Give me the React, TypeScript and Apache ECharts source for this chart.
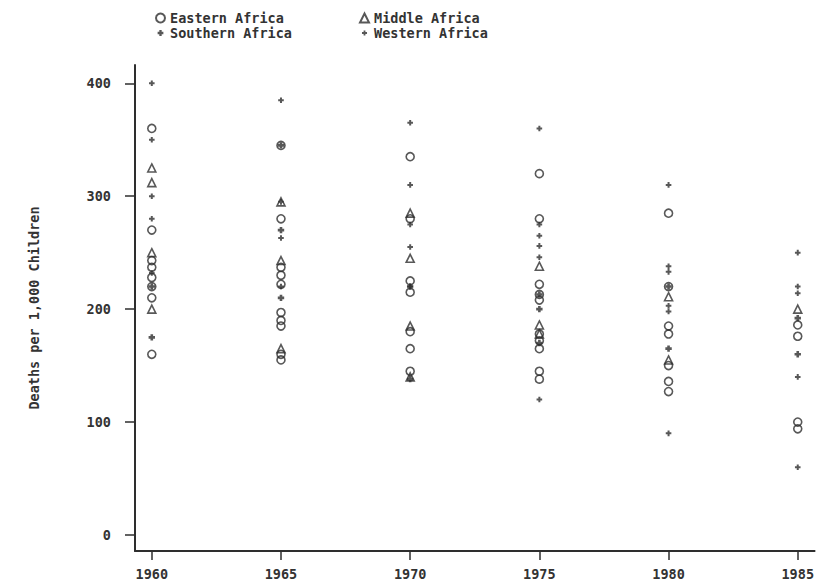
import React, { useEffect, useRef } from "react";
import * as echarts from "echarts";

const years = [1960, 1965, 1970, 1975, 1980, 1985];
const yTicks = [0, 100, 200, 300, 400];

// values per year (same order as `years`)
const easternAfrica = [
  [360, 270, 243, 237, 228, 220, 210, 160],
  [345, 280, 237, 230, 222, 197, 190, 185, 160, 155],
  [335, 280, 225, 215, 180, 165, 145],
  [320, 280, 222, 213, 208, 178, 172, 165, 145, 138],
  [285, 220, 185, 178, 150, 136, 127],
  [186, 176, 100, 94],
];
const middleAfrica = [
  [325, 312, 250, 200],
  [295, 243, 165],
  [285, 245, 185, 140],
  [238, 186, 178],
  [211, 155],
  [200],
];
const southernAfrica = [
  [220, 175],
  [345, 270, 210],
  [220, 138],
  [213, 200, 170],
  [220, 165],
  [192, 160],
];
const westernAfrica = [
  [400, 350, 300, 280, 232],
  [385, 295, 263, 220],
  [365, 310, 275, 255, 220],
  [360, 275, 265, 256, 246, 120],
  [310, 238, 233, 203, 198, 90],
  [250, 220, 214, 140, 60],
];

const toPairs = (arr: number[][]) =>
  years.flatMap((yr, i) => arr[i].map((v) => [yr, v]));

const FONT = "DejaVu Sans Mono";
const INK = "#2e2e2e";
const PLUS_THICK = "path://M0,0M10,10M3.7,1.8H6.3V3.7H8.2V6.3H6.3V8.2H3.7V6.3H1.8V3.7H3.7Z";
const PLUS_THIN = "path://M0,0M10,10M4,2.2H6V4H7.8V6H6V7.8H4V6H2.2V4H4Z";

export default function App() {
  const ref = useRef<HTMLDivElement>(null);
  useEffect(() => {
    if (!ref.current) return;
    const chart = echarts.init(ref.current, undefined, { renderer: "svg" });
    const textStyle = { fontFamily: FONT, fontSize: 13.5, fontWeight: "bold" as const, color: "#333" };
    const hollow = { color: "transparent", borderColor: INK, borderWidth: 1.6 };
    const legendBase = {
      top: 6,
      orient: "vertical",
      itemWidth: 9,
      itemHeight: 9,
      itemGap: 1,
      textStyle: { ...textStyle, lineHeight: 14 },
    };
    chart.setOption({
      animation: false,
      backgroundColor: "#fff",
      grid: { left: 135, right: 0, top: 65, bottom: 31 },
      legend: [
        { ...legendBase, left: 150, data: ["Eastern Africa", "Southern Africa"] },
        { ...legendBase, left: 354, data: ["Middle Africa", "Western Africa"] },
      ],
      xAxis: {
        type: "value",
        min: 1959.35,
        max: 1985.65,
        axisLine: { onZero: false, lineStyle: { color: INK, width: 2 } },
        axisTick: { customValues: years, length: 9, lineStyle: { color: INK, width: 1.5 } },
        axisLabel: {
          customValues: years,
          formatter: (v: number) => String(v),
          ...textStyle,
          margin: 16,
        },
        splitLine: { show: false },
      },
      yAxis: {
        type: "value",
        min: -14.2,
        max: 416.2,
        name: "Deaths per 1,000 Children",
        nameLocation: "middle",
        nameRotate: 90,
        nameGap: 94,
        nameTextStyle: textStyle,
        axisLine: { onZero: false, lineStyle: { color: INK, width: 2 } },
        axisTick: { customValues: yTicks, length: 10, lineStyle: { color: INK, width: 1.5 } },
        axisLabel: { customValues: yTicks, ...textStyle, margin: 24 },
        splitLine: { show: false },
      },
      series: [
        {
          name: "Eastern Africa",
          type: "scatter",
          symbol: "circle",
          symbolSize: 8,
          itemStyle: hollow,
          data: toPairs(easternAfrica),
        },
        {
          name: "Middle Africa",
          type: "scatter",
          symbol: "triangle",
          symbolSize: 8,
          itemStyle: hollow,
          data: toPairs(middleAfrica),
        },
        {
          name: "Southern Africa",
          type: "scatter",
          symbol: PLUS_THICK,
          symbolSize: 10,
          itemStyle: { color: INK },
          data: toPairs(southernAfrica),
        },
        {
          name: "Western Africa",
          type: "scatter",
          symbol: PLUS_THIN,
          symbolSize: 10,
          itemStyle: { color: INK },
          data: toPairs(westernAfrica),
        },
      ],
    });
    return () => chart.dispose();
  }, []);
  return <div ref={ref} style={{ width: 817, height: 582, position: "absolute", left: 0, top: 0 }} />;
}
